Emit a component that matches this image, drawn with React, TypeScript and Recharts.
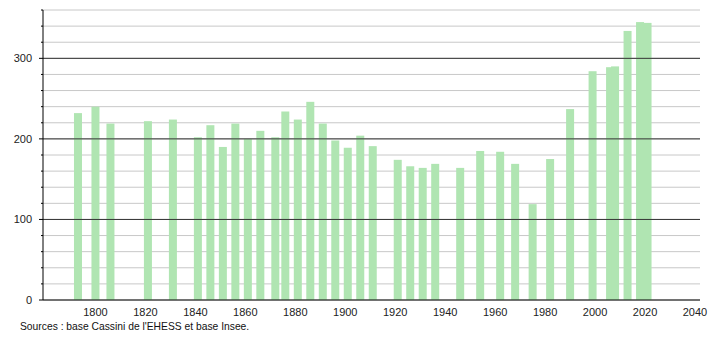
import { BarChart, Bar, XAxis, YAxis, CartesianGrid, ReferenceLine } from 'recharts'

const years = [
  1793, 1800, 1806, 1821, 1831, 1841, 1846, 1851, 1856, 1861, 1866, 1872, 1876, 1881, 1886, 1891,
  1896, 1901, 1906, 1911, 1921, 1926, 1931, 1936, 1946, 1954, 1962, 1968, 1975, 1982, 1990, 1999,
  2006, 2008, 2013, 2018, 2021,
]
const population = [
  232, 240, 219, 222, 224, 202, 217, 190, 219, 200, 210, 202, 234, 224, 246, 219,
  198, 189, 204, 191, 174, 166, 164, 169, 164, 185, 184, 169, 119, 175, 237, 284,
  289, 290, 334, 345, 344,
]
const yTicks = [0, 20, 40, 60, 80, 100, 120, 140, 160, 180, 200, 220, 240, 260, 280, 300, 320, 340, 360]
const majorLines = [100, 200, 300]
const xTicks = [1800, 1820, 1840, 1860, 1880, 1900, 1920, 1940, 1960, 1980, 2000, 2020, 2040]

const data = years.map((y, i) => ({ year: y, pop: population[i] }))

const font = '"Liberation Sans", Arial, sans-serif'

// fixed-width bar centred on its year (numeric axis would otherwise shrink it)
const CensusBar = (props: any) => {
  const { x, y, width, height } = props
  if (height == null || height <= 0) return null
  const cx = x + width / 2
  return <rect x={cx - 4} y={y} width={8} height={height} fill="#b0e5b2" />
}

const YTick = (props: any) => {
  const { x, y, payload } = props
  const major = payload.value % 100 === 0
  return (
    <g>
      <line x1={major ? 39 : 41} x2={43} y1={y} y2={y} stroke="#000" />
      {major && (
        <text x={32} y={y} dy={4} textAnchor="end" fontSize={11} fill="#222" fontFamily={font}>
          {payload.value}
        </text>
      )}
    </g>
  )
}

export default function App() {
  return (
    <div style={{ position: 'absolute', left: 0, top: 0, width: 710, height: 340, background: '#fff' }}>
      <BarChart
        width={710}
        height={340}
        data={data}
        margin={{ top: 10, right: 10, left: 0, bottom: 20 }}
      >
        <CartesianGrid vertical={false} stroke="#c8c8c8" />
        {majorLines.map(v => (
          <ReferenceLine key={v} y={v} stroke="#333" strokeWidth={1} />
        ))}
        <XAxis
          dataKey="year"
          type="number"
          domain={[1779, 2042]}
          ticks={xTicks}
          interval={0}
          allowDataOverflow
          height={20}
          tickLine={false}
          axisLine={{ stroke: '#000' }}
          tick={{ fontSize: 11, fill: '#222', fontFamily: font }}
          tickMargin={2}
        />
        <YAxis
          domain={[0, 360]}
          ticks={yTicks}
          interval={0}
          width={43}
          tickLine={false}
          axisLine={{ stroke: '#000' }}
          tick={<YTick />}
        />
        <Bar dataKey="pop" shape={<CensusBar />} isAnimationActive={false} />
      </BarChart>
      <div
        style={{
          position: 'absolute',
          left: 20,
          top: 321,
          fontSize: 10.3,
          fontFamily: font,
          color: '#111',
        }}
      >
        Sources : base Cassini de l'EHESS et base Insee.
      </div>
    </div>
  )
}
